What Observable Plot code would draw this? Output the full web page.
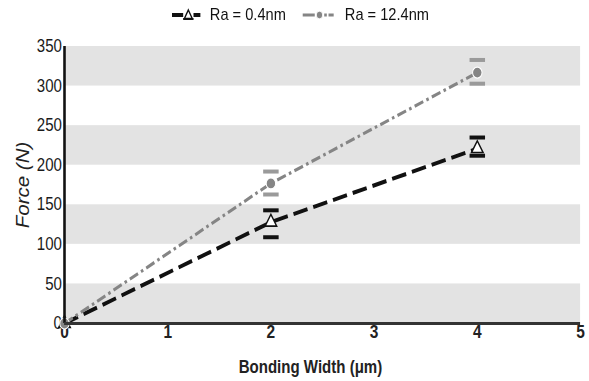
<!DOCTYPE html>
<html>
<head>
<meta charset="utf-8">
<script src="https://cdn.jsdelivr.net/npm/d3@7"></script>
<script src="https://cdn.jsdelivr.net/npm/@observablehq/plot@0.6"></script>
<style>
  html, body { margin: 0; padding: 0; background: #fff; }
  body { width: 589px; height: 381px; overflow: hidden; font-family: "Liberation Sans", Arial, sans-serif; }
  /* the reference figure is horizontally compressed; draw wide, then squeeze */
  #wrap { width: 685px; height: 381px; transform: scaleX(0.86); transform-origin: 0 0; position: relative; }
  #legend { position: relative; height: 30px; font-size: 17px; color: #111; }
  #legend .sym { position: absolute; top: 8px; }
  #legend .lab { position: absolute; top: 5px; line-height: 20px; white-space: nowrap; }
</style>
</head>
<body>
<div id="wrap">
  <div id="legend"></div>
  <div id="chart"></div>
</div>
<script>
// Data
const widths = [0, 2, 4];
const seriesNames = ["Ra = 0.4nm", "Ra = 12.4nm"];
const forceSmooth = [0, 128, 221];   // Ra = 0.4nm
const lowSmooth   = [0, 109, 212];
const highSmooth  = [0, 143, 235];
const forceRough  = [0, 177, 317];   // Ra = 12.4nm
const lowRough    = [0, 163, 303];
const highRough   = [0, 192, 333];
const xTicks = [0, 1, 2, 3, 4, 5];
const yTicks = [0, 50, 100, 150, 200, 250, 300, 350];
const bandStarts = [0, 100, 200, 300];
const bandSize = 50;

const smooth = widths.map((x, i) => ({x, y: forceSmooth[i], lo: lowSmooth[i], hi: highSmooth[i]}));
const rough = widths.map((x, i) => ({x, y: forceRough[i], lo: lowRough[i], hi: highRough[i]}));
const smoothErr = smooth.filter(d => d.hi > d.lo);
const roughErr = rough.filter(d => d.hi > d.lo);
const capHalf = 0.075;

const black = "#111";
const gray = "#858585";
const grayCap = "#9a9a9a";
const fam = '"Liberation Sans", Arial, sans-serif';

// Legend
const legend = document.getElementById("legend");
legend.innerHTML = `
  <svg class="sym" style="left:199px" width="36" height="14" viewBox="0 0 36 14">
    <line x1="1" y1="7" x2="14" y2="7" stroke="${black}" stroke-width="4"/>
    <line x1="26" y1="7" x2="34" y2="7" stroke="${black}" stroke-width="4"/>
    <path d="M20,2 L24.5,10.5 L15.5,10.5 Z" fill="#fff" stroke="${black}" stroke-width="1.6"/>
    <line x1="14" y1="11" x2="26" y2="11" stroke="${black}" stroke-width="2"/>
  </svg>
  <span class="lab" style="left:244px">${seriesNames[0]}</span>
  <svg class="sym" style="left:351px" width="38" height="14" viewBox="0 0 38 14">
    <line x1="1" y1="7" x2="15" y2="7" stroke="${gray}" stroke-width="3"/>
    <line x1="26" y1="7" x2="29" y2="7" stroke="${gray}" stroke-width="3"/>
    <line x1="31" y1="7" x2="37" y2="7" stroke="${gray}" stroke-width="3"/>
    <circle cx="20.5" cy="7" r="3.8" fill="${gray}" stroke="#fff" stroke-width="1"/>
  </svg>
  <span class="lab" style="left:401px">${seriesNames[1]}</span>`;

const chart = Plot.plot({
  width: 685,
  height: 351,
  marginTop: 16,
  marginLeft: 74.5,
  marginRight: 10.5,
  marginBottom: 58,
  style: {fontFamily: fam, background: "#fff"},
  x: {domain: [0, 5]},
  y: {domain: [0, 350]},
  marks: [
    Plot.rect(bandStarts, {x1: 0, x2: 5, y1: d => d, y2: d => d + bandSize, fill: "#e3e3e3"}),
    Plot.axisX({ticks: xTicks, tickFormat: d3.format("d"), tickSize: 0, tickPadding: 2, fontSize: 18, fontWeight: "bold", fill: "#222", label: null}),
    Plot.axisY({ticks: yTicks, tickFormat: d3.format("d"), tickSize: 0, tickPadding: 3, fontSize: 17.5, fill: "#1a1a1a", label: null}),
    Plot.text(["Bonding Width (μm)"], {frameAnchor: "bottom", dx: -14, dy: 44, fontSize: 17.5, fontWeight: "bold", fill: "#222", textAnchor: "middle", lineAnchor: "middle"}),
    Plot.text(["Force (N)"], {frameAnchor: "left", dx: -48, rotate: -90, fontSize: 20.5, fontStyle: "italic", fill: "#222", textAnchor: "middle", lineAnchor: "middle"}),
    // Ra = 0.4nm
    Plot.line(smooth, {x: "x", y: "y", stroke: black, strokeWidth: 4, strokeDasharray: "17,7", strokeLinecap: "butt"}),
    Plot.link(smoothErr, {x1: d => d.x - capHalf, x2: d => d.x + capHalf, y1: "hi", y2: "hi", stroke: black, strokeWidth: 4}),
    Plot.link(smoothErr, {x1: d => d.x - capHalf, x2: d => d.x + capHalf, y1: "lo", y2: "lo", stroke: black, strokeWidth: 4}),
    Plot.dot(smooth, {x: "x", y: "y", symbol: "triangle", r: 5, fill: "#fff", stroke: black, strokeWidth: 1.6}),
    // Ra = 12.4nm
    Plot.line(rough, {x: "x", y: "y", stroke: gray, strokeWidth: 3.2, strokeDasharray: "11,4,3,4", strokeLinecap: "butt"}),
    Plot.link(roughErr, {x1: d => d.x - capHalf, x2: d => d.x + capHalf, y1: "hi", y2: "hi", stroke: grayCap, strokeWidth: 4}),
    Plot.link(roughErr, {x1: d => d.x - capHalf, x2: d => d.x + capHalf, y1: "lo", y2: "lo", stroke: grayCap, strokeWidth: 4}),
    Plot.dot(rough, {x: "x", y: "y", r: 5.5, fill: gray, stroke: "#fff", strokeWidth: 1.2}),
    // axis lines
    Plot.ruleX([0], {stroke: black, strokeWidth: 3}),
    Plot.ruleY([0], {stroke: "#333", strokeWidth: 3})
  ]
});
document.getElementById("chart").appendChild(chart);
</script>
</body>
</html>
